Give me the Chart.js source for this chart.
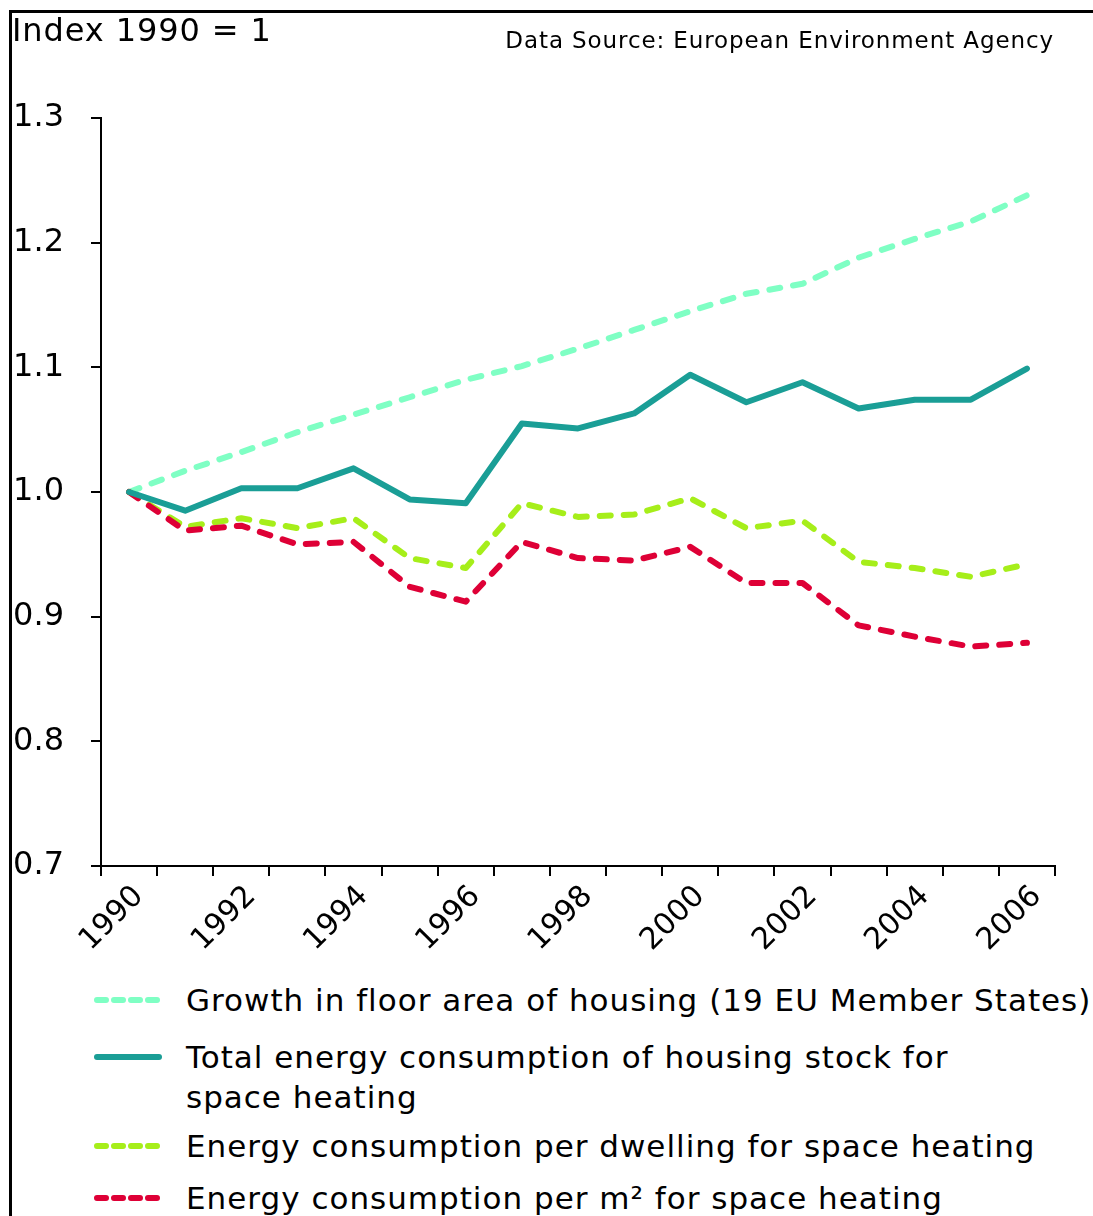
<!DOCTYPE html>
<html>
<head>
<meta charset="utf-8">
<script src="https://cdn.jsdelivr.net/npm/chart.js@4"></script>
<style>
  html, body { margin:0; padding:0; background:#fff; }
  body { width:1093px; height:1216px; position:relative; overflow:hidden; font-family:"DejaVu Sans", Verdana, sans-serif; color:#000; }
  #frameTop { position:absolute; left:9px; top:10px; width:1084px; height:3px; background:#000; }
  #frameLeft { position:absolute; left:9px; top:10px; width:3px; height:1206px; background:#000; }
  #chartBox { position:absolute; left:0; top:0; width:1093px; height:970px; }
  #yTitle { position:absolute; left:12px; top:11px; font-size:32px; line-height:38px; letter-spacing:0.9px; white-space:nowrap; }
  #source { position:absolute; right:39px; top:25px; font-size:23px; line-height:30px; letter-spacing:0.9px; white-space:nowrap; }
  #legend { position:absolute; left:0; top:0; }
  .item { position:absolute; left:0; }
  .item svg { position:absolute; left:92px; }
  .item .txt { position:absolute; left:186px; font-size:31px; line-height:40px; letter-spacing:1px; white-space:pre; }
</style>
</head>
<body>
<div id="chartBox"><canvas id="c" width="1093" height="970"></canvas></div>
<div id="frameTop"></div>
<div id="frameLeft"></div>
<div id="yTitle">Index 1990 = 1</div>
<div id="source">Data Source: European Environment Agency</div>
<div id="legend"></div>
<script>
const years = ["1990","1991","1992","1993","1994","1995","1996","1997","1998","1999","2000","2001","2002","2003","2004","2005","2006"];
const yTicks = [0.7, 0.8, 0.9, 1.0, 1.1, 1.2, 1.3];

const floorArea   = [1.000,1.017,1.032,1.048,1.062,1.076,1.090,1.101,1.115,1.130,1.145,1.159,1.167,1.188,1.203,1.217,1.238];
const totalEnergy = [1.000,0.985,1.003,1.003,1.019,0.994,0.991,1.055,1.051,1.063,1.094,1.072,1.088,1.067,1.074,1.074,1.099];
const perDwelling = [1.000,0.972,0.979,0.971,0.979,0.947,0.939,0.991,0.980,0.982,0.995,0.971,0.977,0.944,0.939,0.932,0.942];
const perM2       = [1.000,0.969,0.973,0.958,0.960,0.924,0.912,0.960,0.947,0.945,0.956,0.927,0.927,0.893,0.884,0.876,0.879];

const seriesNames = [
  "Growth in floor area of housing (19 EU Member States)",
  "Total energy consumption of housing stock for\nspace heating",
  "Energy consumption per dwelling for space heating",
  "Energy consumption per m\u00B2 for space heating"
];
const seriesColors = ["#7FFFC4", "#1A9E96", "#A6EE1A", "#DE0036"];
const seriesDashed = [true, false, true, true];
const seriesValues = [floorArea, totalEnergy, perDwelling, perM2];

const datasets = seriesValues.map((vals, i) => ({
  label: seriesNames[i],
  data: vals,
  borderColor: seriesColors[i],
  backgroundColor: seriesColors[i],
  borderWidth: 6,
  borderDash: seriesDashed[i] ? [11, 13] : [],
  borderCapStyle: 'round',
  borderJoinStyle: 'round',
  pointRadius: 0,
  tension: 0,
  fill: false
}));
datasets[0].order = 4; datasets[2].order = 3; datasets[3].order = 2; datasets[1].order = 1;

const chart = new Chart(document.getElementById('c'), {
  type: 'line',
  data: { labels: years, datasets: datasets },
  options: {
    responsive: false,
    animation: false,
    layout: { padding: { top: 118, right: 38, bottom: 0, left: 0 } },
    plugins: { legend: { display: false }, tooltip: { enabled: false } },
    scales: {
      x: {
        type: 'category',
        offset: true,
        grid: { offset: true, drawOnChartArea: false, drawTicks: true, tickLength: 10, color: '#000', lineWidth: 2 },
        border: { display: true, color: '#000', width: 2 },
        ticks: {
          autoSkip: false,
          minRotation: 45, maxRotation: 45,
          padding: 3,
          labelOffset: 10,
          color: '#000',
          font: { family: 'DejaVu Sans', size: 30 },
          callback: function(v, i) { return i % 2 === 0 ? years[i] : ''; }
        },
        afterFit: function(scale) { scale.height = 104; }
      },
      y: {
        min: 0.7, max: 1.3,
        afterBuildTicks: function(scale) { scale.ticks = yTicks.map(v => ({ value: v })); },
        grid: { drawOnChartArea: false, drawTicks: true, tickLength: 10, color: '#000', lineWidth: 2 },
        border: { display: true, color: '#000', width: 2 },
        ticks: {
          padding: 27,
          color: '#000',
          font: { family: 'DejaVu Sans', size: 32 },
          callback: function(v) { return Number(v).toFixed(1); }
        },
        afterFit: function(scale) { scale.width = 101; }
      }
    }
  }
});

const legendTops = [980, 1037, 1126, 1178];
const legend = document.getElementById('legend');
[0, 1, 2, 3].forEach((di, k) => {
  const ds = chart.data.datasets[di];
  const item = document.createElement('div');
  item.className = 'item';
  item.style.top = legendTops[k] + 'px';
  const dash = seriesDashed[di] ? 'stroke-dasharray="9 8"' : '';
  item.innerHTML = '<svg width="76" height="12" style="top:14px"><line x1="5" y1="6" x2="67" y2="6" stroke="' + ds.borderColor +
    '" stroke-width="6" stroke-linecap="round" ' + dash + '/></svg>';
  const t = document.createElement('div');
  t.className = 'txt';
  t.textContent = ds.label;
  item.appendChild(t);
  legend.appendChild(item);
});
</script>
</body>
</html>
